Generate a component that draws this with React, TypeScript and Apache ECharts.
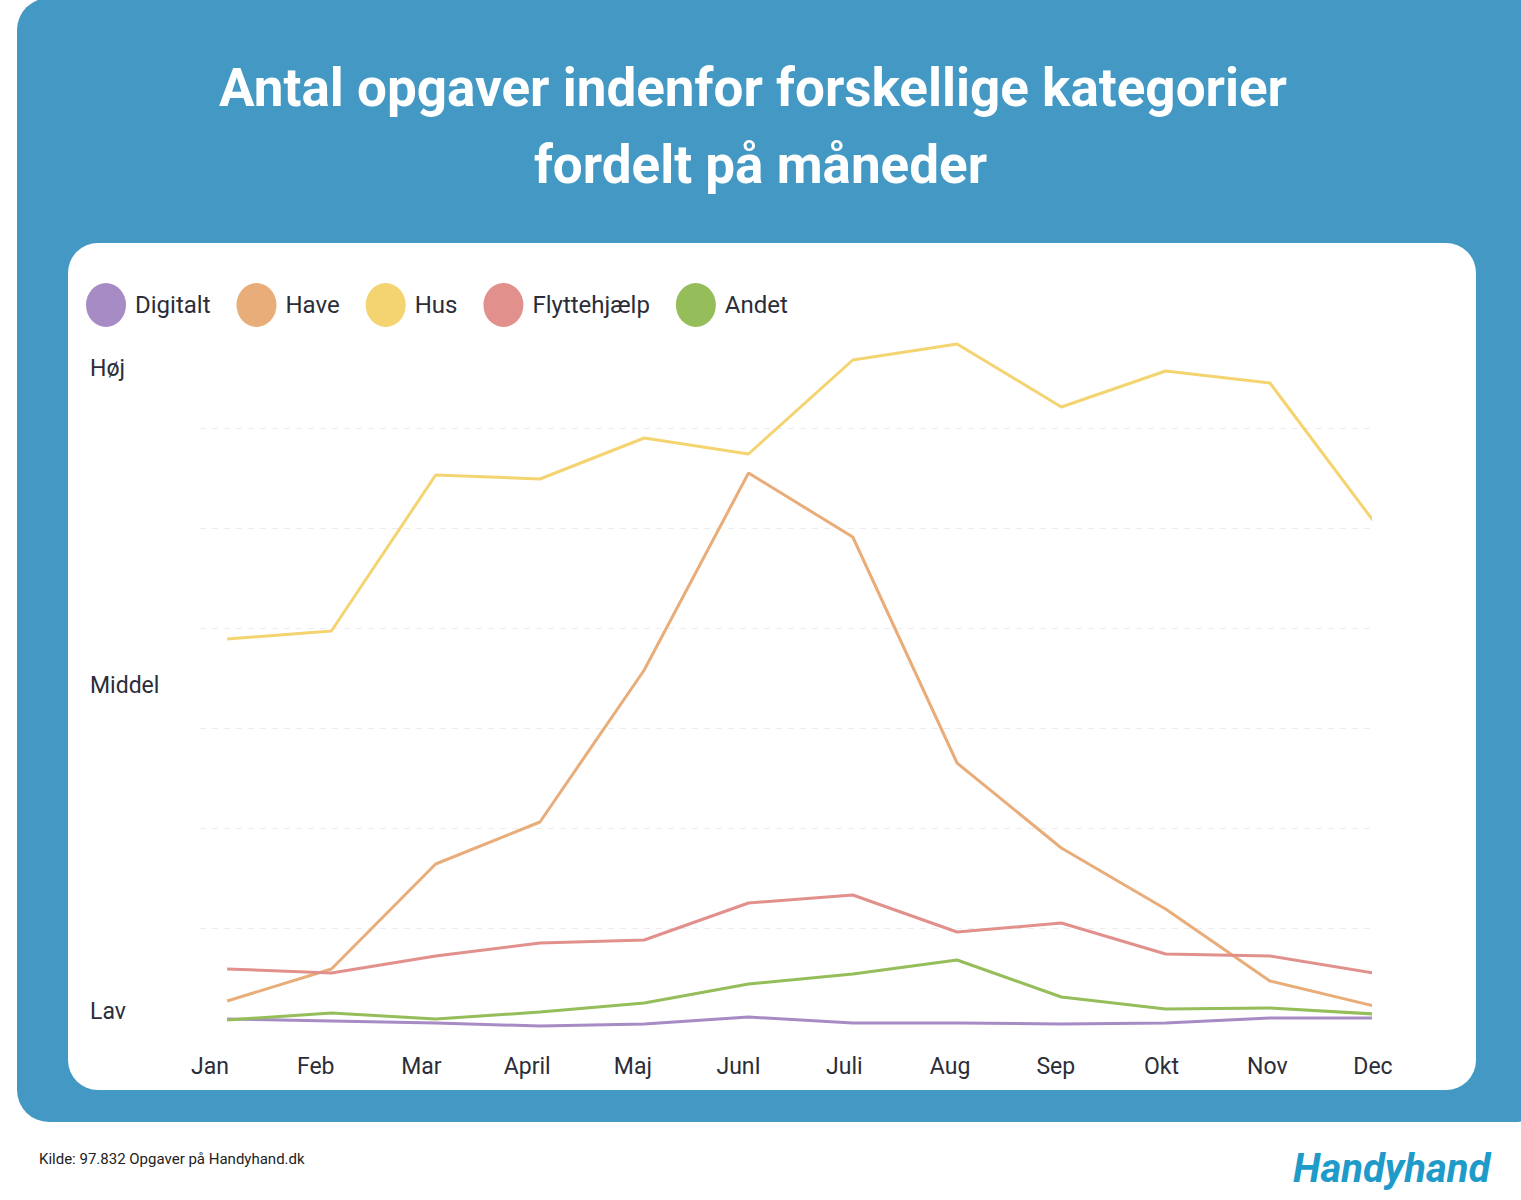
import React, { useEffect, useRef } from "react";
import * as echarts from "echarts";

const months = ["Jan", "Feb", "Mar", "April", "Maj", "JunI", "Juli", "Aug", "Sep", "Okt", "Nov", "Dec"];
const digitalt = [9, 7, 5, 2, 4, 11, 5, 5, 4, 5, 10, 10];
const have = [27, 59, 164, 206, 358, 555, 491, 265, 180, 119, 47, 22];
const hus = [389, 397, 553, 549, 590, 574, 668, 684, 621, 657, 645, 506];
const flytte = [59, 55, 72, 85, 88, 125, 133, 96, 105, 74, 72, 55];
const andet = [8, 15, 9, 16, 25, 44, 54, 68, 31, 19, 20, 14];
const seriesNames = ["Digitalt", "Have", "Hus", "Flyttehjælp", "Andet"];
const seriesColors = ["#a78bc4", "#e9ad7a", "#f4d470", "#e2908c", "#95bd5a"];
const gridValues = [100, 200, 300, 400, 500, 600];
const levelLabels = ["Høj", "Middel", "Lav"];
const titleLines = ["Antal opgaver indenfor forskellige kategorier", "fordelt på måneder"];
const sourceText = "Kilde: 97.832 Opgaver på Handyhand.dk";

const FONT = "Roboto, 'Noto Sans', sans-serif";
const TEXT = "#2b2d38";

export default function App() {
  const ref = useRef<HTMLDivElement>(null);
  useEffect(() => {
    if (!ref.current) return;
    const chart = echarts.init(ref.current, null, { renderer: "svg" });
    const allData = [digitalt, have, hus, flytte, andet];
    const series: any[] = allData.map((d, k) => ({
      name: seriesNames[k],
      type: "line",
      xAxisIndex: 0,
      yAxisIndex: 0,
      data: d.map((v, i) => [i, v]),
      symbol: "none",
      showSymbol: false,
      clip: true,
      lineStyle: { width: 3, color: seriesColors[k] },
      itemStyle: { color: seriesColors[k] },
      z: 3,
      markLine:
        k === 0
          ? {
              silent: true,
              symbol: "none",
              label: { show: false },
              lineStyle: { color: "#ececec", type: [6, 6], width: 1 },
              data: gridValues.map((v) => ({ yAxis: v })),
              z: 1,
            }
          : undefined,
    }));
    series.push({
      type: "line",
      xAxisIndex: 1,
      yAxisIndex: 1,
      data: [],
      silent: true,
    });
    const levelY = [369, 686, 1012];
    chart.setOption({
      animation: false,
      backgroundColor: "#ffffff",
      textStyle: { fontFamily: FONT },
      title: [
        {
          text: titleLines[0],
          left: 219,
          top: 59,
          padding: 0,
          textStyle: { color: "#ffffff", fontSize: 53, fontWeight: "bold", fontFamily: FONT, lineHeight: 58 },
        },
        {
          text: titleLines[1],
          left: "center",
          top: 136,
          padding: 0,
          textStyle: { color: "#ffffff", fontSize: 53, fontWeight: "bold", fontFamily: FONT, lineHeight: 58 },
        },
      ],
      legend: {
        data: seriesNames,
        left: 86,
        top: 283,
        padding: 0,
        itemWidth: 40,
        itemHeight: 44,
        itemGap: 26,
        icon: "path://M0,22a20,22 0 1,0 40,0a20,22 0 1,0 -40,0z",
        textStyle: { fontSize: 24, color: TEXT, fontFamily: FONT, padding: [0, 0, 0, 4] },
        selectedMode: false,
      },
      grid: [
        { left: 200, right: 151, top: 328, bottom: 172, containLabel: false },
        { left: 210, right: 148, top: 328, bottom: 172, containLabel: false },
      ],
      xAxis: [
        {
          type: "value",
          gridIndex: 0,
          min: -0.26,
          max: 10.96,
          show: false,
          splitLine: { show: false },
        },
        {
          type: "category",
          gridIndex: 1,
          data: months,
          boundaryGap: false,
          axisLine: { show: false },
          axisTick: { show: false },
          splitLine: { show: false },
          axisLabel: { fontSize: 23, color: TEXT, fontFamily: FONT, margin: 27, interval: 0 },
        },
      ],
      yAxis: [
        {
          type: "value",
          gridIndex: 0,
          min: 0,
          max: 700,
          interval: 100,
          show: false,
          splitLine: { show: false },
        },
        {
          type: "value",
          gridIndex: 1,
          min: 0,
          max: 700,
          show: false,
          splitLine: { show: false },
        },
      ],
      graphic: [
        {
          type: "rect",
          z: -20,
          silent: true,
          shape: { x: 17, y: -2, width: 1530, height: 1124, r: 32 },
          style: { fill: "#4399c3" },
        },
        {
          type: "rect",
          z: -10,
          silent: true,
          shape: { x: 68, y: 243, width: 1408, height: 847, r: 30 },
          style: { fill: "#ffffff" },
        },
        ...levelLabels.map((t, i) => ({
          type: "text",
          left: 90,
          top: levelY[i] - 12,
          silent: true,
          style: { text: t, fontSize: 23, fill: TEXT, fontFamily: FONT },
        })),
        {
          type: "text",
          left: 39,
          top: 1151,
          silent: true,
          style: { text: sourceText, fontSize: 15, fill: "#222222", fontFamily: FONT },
        },
        {
          type: "text",
          left: 1293,
          top: 1148,
          silent: true,
          style: {
            text: "Handyhand",
            fontSize: 40,
            fontWeight: "bold",
            fontStyle: "italic",
            fill: "#1f9bc9",
            fontFamily: FONT,
          },
        },
      ],
      series,
    });
    return () => chart.dispose();
  }, []);
  return (
    <div
      ref={ref}
      style={{ position: "fixed", left: 0, top: 0, width: 1521, height: 1200 }}
    />
  );
}
